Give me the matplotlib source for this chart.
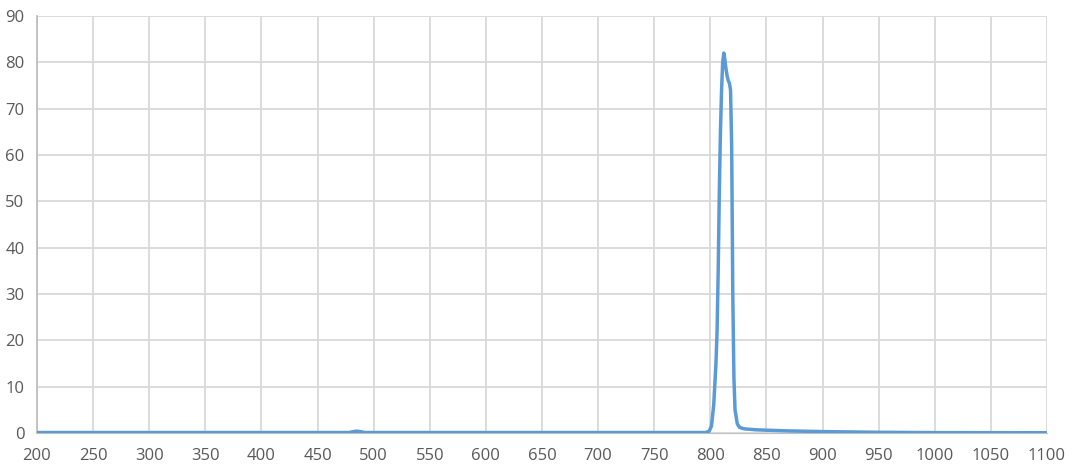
import matplotlib
matplotlib.use("Agg")
import matplotlib.pyplot as plt

# transmission spectrum (wavelength nm, %)
wavelength = [200, 478, 482, 485, 488, 492, 796, 799, 801, 803, 805, 806, 807, 808,
              809, 810, 811, 812, 813, 814, 815, 816, 817, 818, 819, 820, 821, 822,
              824, 826, 830, 840, 850, 870, 900, 950, 1000, 1100]
transmission = [0.1, 0.1, 0.3, 0.4, 0.3, 0.1, 0.1, 0.4, 1.5, 6, 15, 22, 35, 52,
                65, 74, 80, 82, 80.5, 78.5, 77, 76, 75.5, 74, 62, 30, 12, 5,
                2, 1.2, 0.9, 0.7, 0.6, 0.45, 0.3, 0.15, 0.08, 0.05]

x_ticks = list(range(200, 1101, 50))
y_ticks = list(range(0, 91, 10))

plt.rcParams["font.family"] = ["Open Sans", "DejaVu Sans"]

fig = plt.figure(figsize=(10.72, 4.73), dpi=100)
ax = fig.add_axes([0.0345, 0.0846, 0.9422, 0.8816])

ax.plot(wavelength, transmission, color="#5b9bd5", lw=2.5, solid_joinstyle="round", zorder=3)

ax.set_xlim(200, 1100)
ax.set_ylim(0, 90)
ax.set_xticks(x_ticks)
ax.set_yticks(y_ticks)
ax.grid(True, color="#d9d9d9", lw=1.3)
ax.set_axisbelow(True)
ax.tick_params(length=0, labelsize=12, colors="#595959")
ax.tick_params(axis="x", pad=11)
ax.tick_params(axis="y", pad=9)
for s in ("top", "right"):
    ax.spines[s].set_visible(False)
ax.spines["left"].set_color("#bfbfbf")
ax.spines["bottom"].set_color("#bfbfbf")
ax.spines["left"].set_linewidth(1.3)

fig.savefig("out.png", dpi=100)
